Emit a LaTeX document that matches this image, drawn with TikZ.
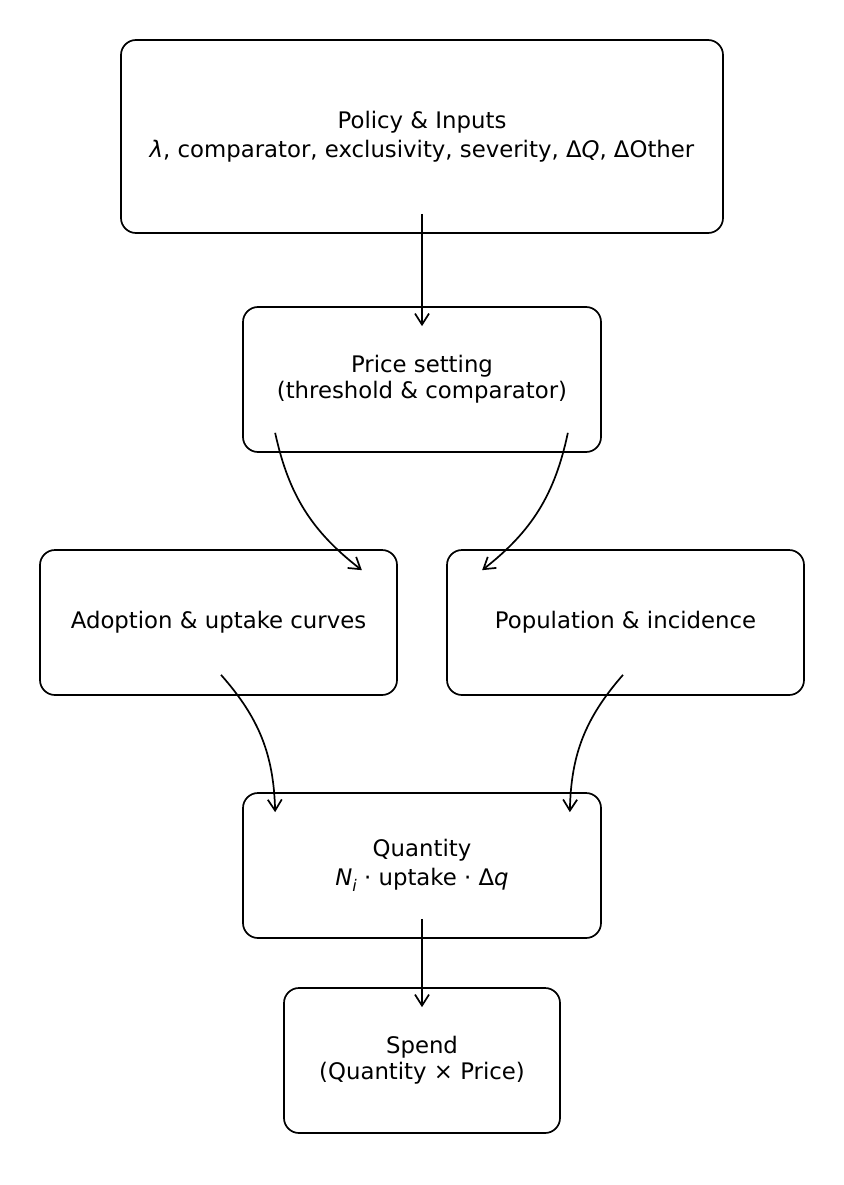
\documentclass[tikz,border=0pt]{standalone}
\usepackage{fontspec}
\setmainfont{DejaVu Sans}
\usetikzlibrary{arrows.meta,calc}
\newcommand{\subi}{\raisebox{-0.25em}{\fontsize{16}{16}\selectfont\itshape i}}
\begin{document}
\begin{tikzpicture}[x=1pt,y=-1pt,
  box/.style={draw, line width=1.7pt, rounded corners=15pt, fill=white, align=center, inner sep=0pt,
    font=\fontsize{22.8}{26}\selectfont},
  mathbox/.style={box, font=\fontsize{22.8}{29}\selectfont},
  arr/.style={line width=1.7pt, -{Straight Barb[length=11pt,width=14pt]}}]
\useasboundingbox (0,0) rectangle (843,1185);
\node[mathbox, minimum width=602pt, minimum height=193pt] (policy) at (422,136.5)
  {Policy \& Inputs\\{\itshape λ}, comparator, exclusivity, severity, Δ{\itshape Q}, ΔOther};
\node[box, minimum width=358pt, minimum height=145pt] (price) at (422,379.5)
  {Price setting\\(threshold \& comparator)};
\node[box, minimum width=357pt, minimum height=145pt] (adoption) at (218.5,622.5)
  {Adoption \& uptake curves};
\node[box, minimum width=357pt, minimum height=145pt] (population) at (625.5,622.5)
  {Population \& incidence};
\node[mathbox, minimum width=358pt, minimum height=145pt] (quantity) at (422,865.5)
  {Quantity\\{\itshape N}\subi{} · uptake · Δ{\itshape q}};
\node[box, minimum width=276pt, minimum height=145pt] (spend) at (422,1060.5)
  {Spend\\(Quantity × Price)};
\draw[arr] ([yshift=20pt]policy.south) -- ([yshift=-20pt]price.north);
\draw[arr] ([xshift=33pt,yshift=20pt]price.south west) to[bend right=20] ([xshift=-36pt,yshift=-21pt]adoption.north east);
\draw[arr] ([xshift=-34pt,yshift=20pt]price.south east) to[bend left=20] ([xshift=36pt,yshift=-21pt]population.north west);
\draw[arr] ([xshift=2.5pt,yshift=21pt]adoption.south) to[bend left=20] ([xshift=33pt,yshift=-20pt]quantity.north west);
\draw[arr] ([xshift=-2.5pt,yshift=21pt]population.south) to[bend right=20] ([xshift=-32pt,yshift=-20pt]quantity.north east);
\draw[arr] ([yshift=20pt]quantity.south) -- ([yshift=-20pt]spend.north);
\end{tikzpicture}
\end{document}
